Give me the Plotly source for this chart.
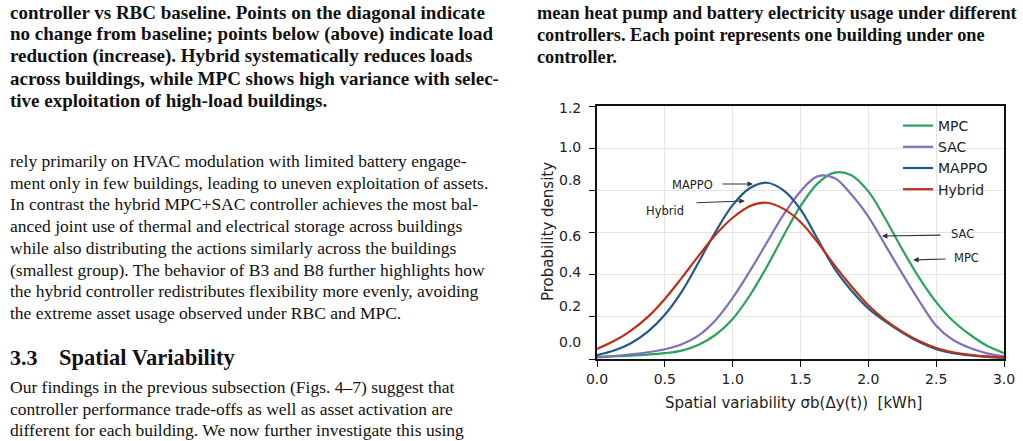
import plotly.graph_objects as go

# ---------------- data ----------------
x_grid = [0.0, 0.125, 0.25, 0.375, 0.5, 0.625, 0.75, 0.875, 1.0, 1.125, 1.25, 1.375, 1.5,
          1.625, 1.75, 1.875, 2.0, 2.125, 2.25, 2.375, 2.5, 2.625, 2.75, 2.875, 3.0]

mpc_y = [0.010, 0.013, 0.016, 0.021, 0.028, 0.040, 0.068, 0.115, 0.190, 0.300, 0.435, 0.585, 0.725,
         0.832, 0.884, 0.872, 0.795, 0.665, 0.520, 0.385, 0.270, 0.180, 0.115, 0.063, 0.028]
sac_y = [0.008, 0.014, 0.022, 0.032, 0.046, 0.070, 0.112, 0.185, 0.290, 0.415, 0.550, 0.685, 0.795,
         0.866, 0.858, 0.780, 0.675, 0.540, 0.405, 0.275, 0.158, 0.090, 0.052, 0.027, 0.012]
mappo_y = [0.018, 0.040, 0.075, 0.130, 0.210, 0.320, 0.460, 0.605, 0.730, 0.810, 0.836, 0.800, 0.710,
           0.570, 0.430, 0.325, 0.240, 0.178, 0.125, 0.080, 0.047, 0.028, 0.017, 0.010, 0.006]
hybrid_y = [0.048, 0.085, 0.135, 0.200, 0.285, 0.385, 0.490, 0.590, 0.670, 0.725, 0.741, 0.712, 0.650,
            0.555, 0.445, 0.345, 0.255, 0.185, 0.130, 0.085, 0.052, 0.032, 0.020, 0.012, 0.008]

x_ticks = [0.0, 0.5, 1.0, 1.5, 2.0, 2.5, 3.0]
x_tick_labels = ["0.0", "0.5", "1.0", "1.5", "2.0", "2.5", "3.0"]
y_ticks = [0.0, 0.2, 0.4, 0.6, 0.8, 1.0, 1.2]
y_tick_labels = ["0.0", "0.2", "0.4", "0.6", "0.8", "1.0", "1.2"]

left_caption = [
    "controller vs RBC baseline. Points on the diagonal indicate",
    "no change from baseline; points below (above) indicate load",
    "reduction (increase). Hybrid systematically reduces loads",
    "across buildings, while MPC shows high variance with selec-",
    "tive exploitation of high-load buildings.",
]
left_body = [
    "rely primarily on HVAC modulation with limited battery engage-",
    "ment only in few buildings, leading to uneven exploitation of assets.",
    "In contrast the hybrid MPC+SAC controller achieves the most bal-",
    "anced joint use of thermal and electrical storage across buildings",
    "while also distributing the actions similarly across the buildings",
    "(smallest group). The behavior of B3 and B8 further highlights how",
    "the hybrid controller redistributes flexibility more evenly, avoiding",
    "the extreme asset usage observed under RBC and MPC.",
]
heading_num = "3.3"
heading_txt = "Spatial Variability"
left_body2 = [
    "Our findings in the previous subsection (Figs. 4\u20137) suggest that",
    "controller performance trade-offs as well as asset activation are",
    "different for each building. We now further investigate this using",
]
right_caption = [
    "mean heat pump and battery electricity usage under different",
    "controllers. Each point represents one building under one",
    "controller.",
]

# ---------------- figure ----------------
W, H = 1023, 441
colors = {"MPC": "#2aa35c", "SAC": "#7f6fbd", "MAPPO": "#1f5b87", "Hybrid": "#bf2f17"}

fig = go.Figure()
for name, ys in [("MPC", mpc_y), ("SAC", sac_y), ("MAPPO", mappo_y), ("Hybrid", hybrid_y)]:
    fig.add_trace(go.Scatter(x=x_grid, y=ys, mode="lines", name=name,
                             line=dict(color=colors[name], width=2.2, shape="spline", smoothing=1.0)))


def py(p):
    return 1 - p / H


def px(p):
    return p / W


ann = []
serif = "Liberation Serif"
TXT = "#111"


def text_line(t, xpix, ypix, size, bold=False, family=serif):
    ann.append(dict(text=("<b>%s</b>" % t) if bold else t, x=px(xpix), y=py(ypix),
                    xref="paper", yref="paper", xanchor="left", yanchor="middle",
                    showarrow=False, font=dict(family=family, size=size, color=TXT)))


for i, t in enumerate(left_caption):
    text_line(t, 8, 12 + i * 22.2, 19, bold=True)
for i, t in enumerate(left_body):
    text_line(t, 8, 161 + i * 21.7, 17.5)
text_line(heading_num, 8, 357, 22, bold=True)
text_line(heading_txt, 57, 357, 22.5, bold=True)
for i, t in enumerate(left_body2):
    text_line(t, 8, 387 + i * 21.7, 17.5)
for i, t in enumerate(right_caption):
    text_line(t, 535, 13 + i * 22.2, 18.3, bold=True)

# y tick labels (placed as in the reference)
sans = "DejaVu Sans"
ylab_pix = [342, 306, 272, 236, 180, 147, 108]
for lab, p in zip(y_tick_labels, ylab_pix):
    ann.append(dict(text=lab, x=px(583), y=py(p), xref="paper", yref="paper",
                    xanchor="right", yanchor="middle", showarrow=False,
                    font=dict(family=sans, size=14, color="#222")))

# curve call-outs: arrow tip in data units, tail offset in pixels
callouts = [
    ("MAPPO", 1.15, 0.83, -32, 0),
    ("Hybrid", 1.09, 0.75, -50, 2),
    ("SAC", 2.10, 0.583, 60, -1),
    ("MPC", 2.33, 0.47, 34, -1),
]
for lab, tx, ty, ax, ay in callouts:
    ann.append(dict(x=tx, y=ty, xref="x", yref="y", ax=ax, ay=ay, axref="pixel", ayref="pixel",
                    text="", showarrow=True, arrowhead=2, arrowsize=1, arrowwidth=1.1,
                    arrowcolor="#333"))
label_pos = {"MAPPO": (715, 185, "right"), "Hybrid": (686, 211, "right"),
             "SAC": (949, 234, "left"), "MPC": (952, 258, "left")}
for lab, (lx, ly, side) in label_pos.items():
    ann.append(dict(text=lab, x=px(lx), y=py(ly), xref="paper", yref="paper",
                    xanchor=side, yanchor="middle", showarrow=False,
                    font=dict(family=sans, size=11.5, color="#222")))

# axis titles
ann.append(dict(text="Spatial variability \u03c3b(\u0394y(t))  [kWh]", x=px(793), y=py(403),
                xref="paper", yref="paper", xanchor="center", yanchor="middle", showarrow=False,
                font=dict(family=sans, size=15, color="#222")))
ann.append(dict(text="Probability density", x=px(548), y=py(232), xref="paper", yref="paper",
                xanchor="center", yanchor="middle", showarrow=False, textangle=-90,
                font=dict(family=sans, size=15, color="#222")))

fig.update_layout(
    width=W, height=H,
    margin=dict(l=0, r=0, t=0, b=0, autoexpand=False),
    paper_bgcolor="white", plot_bgcolor="white",
    showlegend=True,
    legend=dict(x=px(993), y=py(110), xanchor="right", yanchor="top",
                bgcolor="rgba(0,0,0,0)", font=dict(family=sans, size=14, color="#222"),
                itemwidth=30, tracegroupgap=0),
    annotations=ann,
    xaxis=dict(domain=[px(597), px(1004)], range=[0, 3], tickvals=x_ticks, ticktext=x_tick_labels,
               showline=True, linecolor="#111", linewidth=1.5, mirror=True,
               ticks="outside", ticklen=6, tickwidth=1.2, tickcolor="#111",
               showgrid=True, gridcolor="#e4e4e4", gridwidth=1, zeroline=False,
               tickfont=dict(family=sans, size=14, color="#222"), automargin=False),
    yaxis=dict(domain=[py(359), py(106)], range=[0, 1.2], tickvals=y_ticks, showticklabels=False,
               showline=True, linecolor="#111", linewidth=1.5, mirror=True,
               ticks="outside", ticklen=6, tickwidth=1.2, tickcolor="#111",
               showgrid=True, gridcolor="#e4e4e4", gridwidth=1, zeroline=False, automargin=False),
)

fig.write_html("out.html")
